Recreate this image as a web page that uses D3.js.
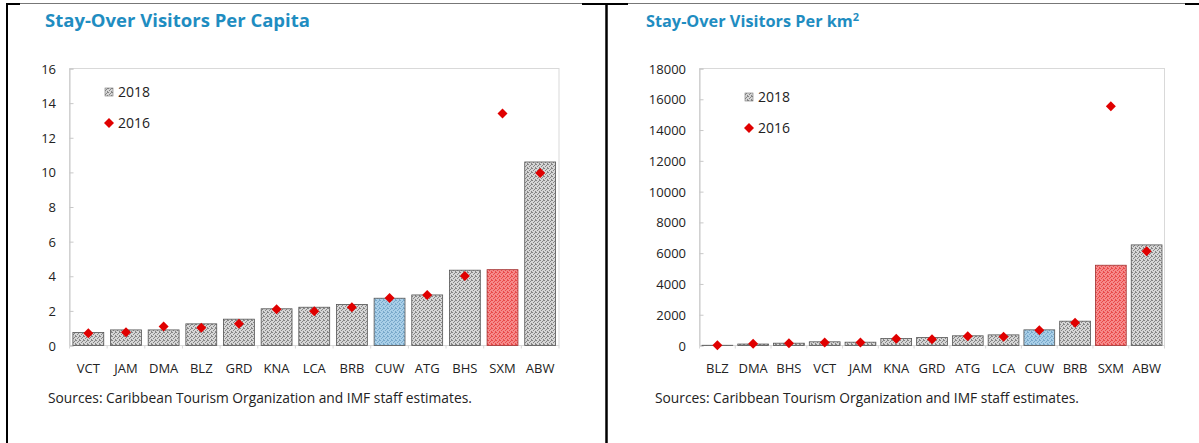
<!DOCTYPE html>
<html>
<head>
<meta charset="utf-8">
<script src="https://cdn.jsdelivr.net/npm/d3@7"></script>
<style>
  body { margin: 0; background: #fff; }
  svg { display: block; font-family: "Open Sans", "Noto Sans", sans-serif; }
</style>
</head>
<body>
<svg id="chart" width="1199" height="443"></svg>
<script>
// per capita panel
const capitaCodes = ['VCT','JAM','DMA','BLZ','GRD','KNA','LCA','BRB','CUW','ATG','BHS','SXM','ABW']
const capita2018 = [0.75, 0.9, 0.9, 1.25, 1.52, 2.12, 2.21, 2.37, 2.73, 2.92, 4.35, 4.38, 10.6]
const capita2016 = [0.71, 0.77, 1.1, 1.02, 1.25, 2.1, 1.98, 2.21, 2.75, 2.92, 4.02, 13.4, 9.96]
const capitaTicks = [0, 2, 4, 6, 8, 10, 12, 14, 16]

// per km2 panel
const kmCodes = ['BLZ','DMA','BHS','VCT','JAM','KNA','GRD','ATG','LCA','CUW','BRB','SXM','ABW']
const km2018 = [15, 95, 150, 240, 215, 455, 520, 630, 690, 1017, 1580, 5216, 6537]
const km2016 = [20, 108, 150, 195, 195, 433, 411, 606, 563, 996, 1472, 15540, 6126]
const kmTicks = [0, 2000, 4000, 6000, 8000, 10000, 12000, 14000, 16000, 18000]

const sourceNote = 'Sources: Caribbean Tourism Organization and IMF staff estimates.'

const svg = d3.select('#chart')
const defs = svg.append('defs')

// speckled fills like the excel texture
function makePattern(id, base, dark) {
    const p = defs.append('pattern')
        .attr('id', id)
        .attr('width', 4).attr('height', 4)
        .attr('patternUnits', 'userSpaceOnUse')
    p.append('rect').attr('width', 4).attr('height', 4).attr('fill', base)
    const dots = [[0,0],[2,1],[1,2],[3,3],[3,0]]
    dots.forEach(d => {
        p.append('rect').attr('x', d[0]).attr('y', d[1]).attr('width', 1).attr('height', 1).attr('fill', dark)
    })
}
makePattern('pat-gray', '#d6d6d6', '#858585')
makePattern('pat-blue', '#a9cfe8', '#78a8ca')
makePattern('pat-red', '#f68a8a', '#e84a4a')

function barFill(code) {
    if (code === 'CUW') return 'url(#pat-blue)'
    if (code === 'SXM') return 'url(#pat-red)'
    return 'url(#pat-gray)'
}

function diamond(g, cx, cy, r) {
    g.append('path')
        .attr('d', `M${cx},${cy - r}L${cx + r},${cy}L${cx},${cy + r}L${cx - r},${cy}Z`)
        .attr('fill', '#e00000')
}

function drawChart(opt) {
    const g = svg.append('g')

    g.append('text')
        .attr('x', opt.titleX).attr('y', 27)
        .attr('fill', '#1f8dc1')
        .attr('font-weight', 'bold')
        .attr('font-size', opt.titleSize)
        .html(opt.title)

    const x = d3.scaleBand()
        .domain(opt.codes)
        .range([opt.left, opt.right])
        .paddingInner(opt.pad)
        .paddingOuter(opt.pad / 2)

    const y = d3.scaleLinear()
        .domain([0, opt.max])
        .range([opt.bottom, opt.top])

    // plot box
    g.append('rect')
        .attr('x', opt.left).attr('y', opt.top)
        .attr('width', opt.right - opt.left).attr('height', opt.bottom - opt.top)
        .attr('fill', 'none').attr('stroke', '#d9d9d9')

    // y axis with inward ticks
    const yAxis = d3.axisRight(y).tickValues(opt.ticks).tickSize(4).tickFormat('')
    g.append('g').attr('transform', `translate(${opt.left},0)`).call(yAxis)
        .call(a => a.select('.domain').attr('stroke', '#c8c8c8'))
        .call(a => a.selectAll('.tick line').attr('stroke', '#c8c8c8'))

    g.selectAll('.ylab')
        .data(opt.ticks)
        .enter().append('text')
        .attr('x', opt.labelRight)
        .attr('y', d => y(d) + 5)
        .attr('text-anchor', 'end')
        .attr('font-size', 13)
        .attr('fill', '#222')
        .text(d => d)

    // small ticks under the x axis
    const step = x.step()
    g.selectAll('.xtick')
        .data(d3.range(opt.codes.length + 1))
        .enter().append('line')
        .attr('x1', i => opt.left + i * step).attr('x2', i => opt.left + i * step)
        .attr('y1', opt.bottom).attr('y2', opt.bottom + 3)
        .attr('stroke', '#d9d9d9')

    g.selectAll('.bar')
        .data(opt.codes)
        .enter().append('rect')
        .attr('x', d => x(d))
        .attr('y', (d, i) => y(opt.v2018[i]))
        .attr('width', x.bandwidth())
        .attr('height', (d, i) => opt.bottom - y(opt.v2018[i]))
        .attr('fill', d => barFill(d))
        .attr('stroke', d => d === 'SXM' ? '#a03030' : '#555')
        .attr('stroke-width', 0.8)

    opt.codes.forEach((d, i) => {
        diamond(g, x(d) + x.bandwidth() / 2, y(opt.v2016[i]), 5)
    })

    g.selectAll('.xlab')
        .data(opt.codes)
        .enter().append('text')
        .attr('x', d => x(d) + x.bandwidth() / 2)
        .attr('y', opt.bottom + 27)
        .attr('text-anchor', 'middle')
        .attr('font-size', 13)
        .attr('fill', '#222')
        .text(d => d)

    // legend
    g.append('rect')
        .attr('x', opt.legX - 4).attr('y', opt.legY - 12)
        .attr('width', 8).attr('height', 8)
        .attr('fill', 'url(#pat-gray)').attr('stroke', '#777').attr('stroke-width', 0.6)
    g.append('text')
        .attr('x', opt.legX + 9).attr('y', opt.legY - 3)
        .attr('font-size', 14).attr('fill', '#222')
        .text('2018')
    diamond(g, opt.legX, opt.legY + 23, 5)
    g.append('text')
        .attr('x', opt.legX + 9).attr('y', opt.legY + 28)
        .attr('font-size', 14).attr('fill', '#222')
        .text('2016')

    g.append('text')
        .attr('x', opt.noteX).attr('y', 403)
        .attr('font-size', 13.8)
        .attr('fill', '#222')
        .text(sourceNote)
}

drawChart({
    title: 'Stay-Over Visitors Per Capita',
    titleX: 45, titleSize: 18.5,
    codes: capitaCodes, v2018: capita2018, v2016: capita2016,
    ticks: capitaTicks, max: 16,
    left: 69.5, right: 559, top: 68.5, bottom: 345.5,
    labelRight: 56, pad: 0.18,
    legX: 109, legY: 100,
    noteX: 48
})

drawChart({
    title: 'Stay-Over Visitors Per km<tspan font-size="11" dy="-6">2</tspan>',
    titleX: 646, titleSize: 16.3,
    codes: kmCodes, v2018: km2018, v2016: km2016,
    ticks: kmTicks, max: 18000,
    left: 699.5, right: 1164.5, top: 68.5, bottom: 345.5,
    labelRight: 686, pad: 0.14,
    legX: 749, legY: 105,
    noteX: 655
})

// page frame
const frame = svg.append('g')
frame.append('line').attr('x1', 6).attr('x2', 1199).attr('y1', 3.5).attr('y2', 3.5).attr('stroke', '#777').attr('stroke-width', 1)
frame.append('line').attr('x1', 6).attr('x2', 20).attr('y1', 4).attr('y2', 4).attr('stroke', '#000').attr('stroke-width', 2)
frame.append('line').attr('x1', 582).attr('x2', 628).attr('y1', 4).attr('y2', 4).attr('stroke', '#000').attr('stroke-width', 2)
frame.append('line').attr('x1', 1185).attr('x2', 1199).attr('y1', 4).attr('y2', 4).attr('stroke', '#000').attr('stroke-width', 2)
frame.append('line').attr('x1', 7).attr('x2', 7).attr('y1', 3).attr('y2', 443).attr('stroke', '#000').attr('stroke-width', 2)
frame.append('line').attr('x1', 606.5).attr('x2', 606.5).attr('y1', 3).attr('y2', 443).attr('stroke', '#000').attr('stroke-width', 2.5)
</script>
</body>
</html>
